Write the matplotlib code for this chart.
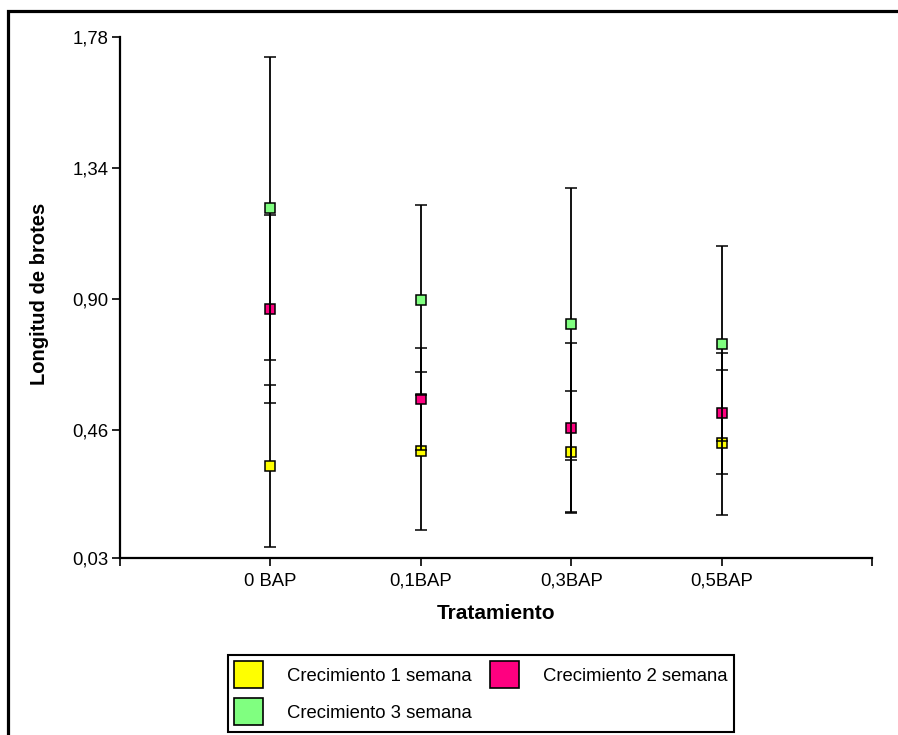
import matplotlib
matplotlib.use('Agg')
import matplotlib.pyplot as plt
from matplotlib.patches import Patch, Rectangle

plt.rcParams['font.family'] = ['Liberation Sans', 'DejaVu Sans']

# values
tratamientos = ['0 BAP', '0,1BAP', '0,3BAP', '0,5BAP']
sem1 = [0.339, 0.389, 0.387, 0.417]
err1 = [0.272, 0.265, 0.205, 0.243]
sem2 = [0.866, 0.564, 0.468, 0.516]
err2 = [0.316, 0.170, 0.284, 0.203]
sem3 = [1.205, 0.897, 0.817, 0.750]
err3 = [0.509, 0.320, 0.457, 0.328]
yticks = [0.03, 0.46, 0.90, 1.34, 1.78]

series = [
    ('Crecimiento 1 semana', sem1, err1, '#ffff00'),
    ('Crecimiento 2 semana', sem2, err2, '#ff0080'),
    ('Crecimiento 3 semana', sem3, err3, '#80ff80'),
]

fig = plt.figure(figsize=(8.98, 7.35), dpi=100)
ax = fig.add_axes([120 / 898, 1 - 558 / 735, 752 / 898, 521 / 735])

x = list(range(1, len(tratamientos) + 1))
for i, (name, vals, errs, col) in enumerate(series):
    ax.errorbar(x, vals, yerr=errs, fmt='s', color='black', ecolor='black',
                markerfacecolor=col, markeredgecolor='black', markeredgewidth=1.1,
                markersize=7.8, elinewidth=1.3, capsize=4.3, capthick=1.3,
                zorder=3 + i)

ax.set_xlim(0, 5)
ax.set_ylim(0.03, 1.78)
ax.set_xticks(range(0, 6))
ax.set_xticklabels([''] + tratamientos + [''])
ax.set_yticks(yticks)
ax.set_yticklabels([f'{v:.2f}'.replace('.', ',') for v in yticks])

for s in ['top', 'right']:
    ax.spines[s].set_visible(False)
for s in ['left', 'bottom']:
    ax.spines[s].set_linewidth(1.6)
ax.tick_params(axis='both', direction='out', length=5.5, width=1.2,
               labelsize=13.3, pad=3)
ax.tick_params(axis='x', pad=5)

ax.set_xlabel('Tratamiento', fontsize=15, fontweight='bold', va='center')
ax.xaxis.set_label_coords(0.5, -0.1056)
ax.set_ylabel('Longitud de brotes', fontsize=14.5, fontweight='bold', va='center')
ax.yaxis.set_label_coords(-0.1064, 0.507)

# legend fills column by column, so order the entries to read row by row
order = [0, 2, 1]
handles = [Patch(facecolor=series[k][3], edgecolor='black', linewidth=1.2)
           for k in order]
labels = [series[k][0] for k in order]
leg = fig.legend(handles, labels, ncol=2, loc='upper left',
                 bbox_to_anchor=(228 / 898, 1 - 655 / 735),
                 fontsize=13.3, handlelength=1.55, handleheight=1.85,
                 handletextpad=1.3, columnspacing=1.0, labelspacing=0.55,
                 borderpad=0.35, borderaxespad=0, fancybox=False,
                 framealpha=1, edgecolor='black')
leg.get_frame().set_linewidth(1.5)

# outer frame, cut off at the right and bottom
fig.patches.append(Rectangle((8 / 898, -0.2), 1.2, 1.2 - 11 / 735,
                             transform=fig.transFigure, fill=False,
                             edgecolor='black', linewidth=2.3, zorder=0))

fig.savefig('out.png', dpi=100)
